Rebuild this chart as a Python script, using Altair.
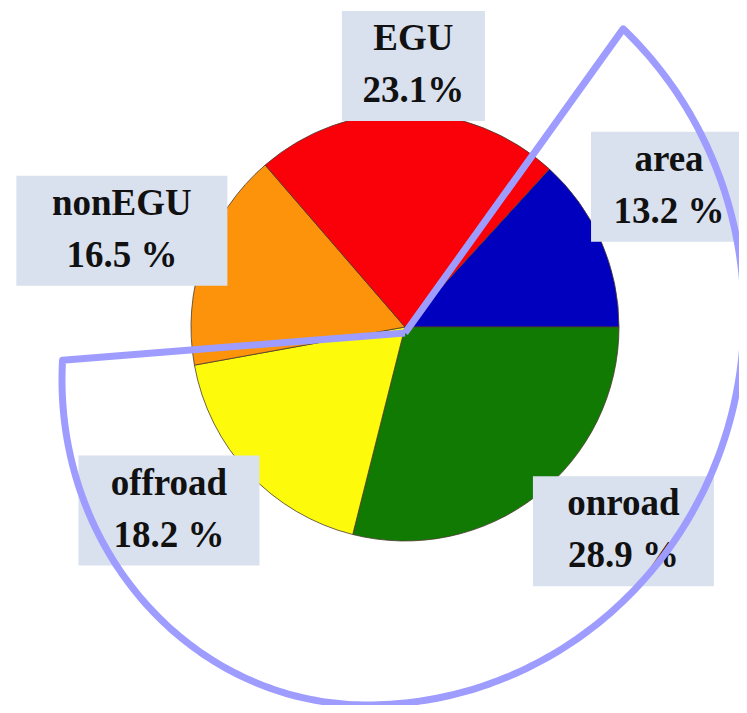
import math
import altair as alt
import pandas as pd

# ---------------- data ----------------
categories = ["area", "onroad", "offroad", "nonEGU", "EGU"]
shares = [13.2, 28.9, 18.2, 16.5, 23.1]
share_labels = ["13.2 %", "28.9 %", "18.2 %", "16.5 %", "23.1%"]

# ---------------- styling / layout ----------------
slice_colors = ["#0000be", "#107a03", "#fdfb0b", "#fc930a", "#fa0008"]
box_widths = [156, 181, 181, 211, 143]       # label box widths (px)
angle_nudge = [-4.2, -9.0, 5.2, -0.7, 0.8]   # label angular nudges (deg)

W, H = 731, 697
CX, CY = 397, 319          # pie centre (view px)
R_PIE = 214
R_LABEL = 299
R_DOT = 227
BOX_H = 110
TOP_MIN = 3 + BOX_H / 2
START_DEG = 90 - 360 * shares[0] / sum(shares)
START = math.radians(START_DEG)

# outline wedge (highlight shape made of two elliptical arcs)
V_X, V_Y = 397, 325                    # wedge vertex
R_CX, R_CY, R_RX, R_RY = 359, 307, 377, 390   # right-hand arc
L_CX, L_CY, L_RX, L_RY = 359, 372, 305, 325   # left-hand arc
E_START, E_END = 42.8, 273.5
N_SEQ = 262

df = pd.DataFrame({
    "category": categories,
    "share": shares,
    "label": share_labels,
    "idx": list(range(len(categories))),
    "bw": box_widths,
    "nudge": angle_nudge,
})

px = alt.Scale(domain=[0, W], range=[0, W], nice=False, zero=False)
py = alt.Scale(domain=[0, H], range=[0, H], nice=False, zero=False)

pie = alt.Chart(df).mark_arc(
    outerRadius=R_PIE, stroke="#4a3a30", strokeWidth=0.8
).encode(
    theta=alt.Theta("share:Q", stack=True,
                    scale=alt.Scale(range=[START, START + 2 * math.pi])),
    order=alt.Order("idx:Q"),
    color=alt.Color("category:N", legend=None,
                    scale=alt.Scale(domain=categories, range=slice_colors)),
    x=alt.value(CX),
    y=alt.value(CY),
)

lab = alt.Chart(df).transform_joinaggregate(
    total="sum(share)"
).transform_window(
    cum="sum(share)", sort=[alt.SortField("idx")], frame=[None, 0]
).transform_calculate(
    mid0=f"{START_DEG} + 360 * (datum.cum - datum.share / 2) / datum.total",
).transform_calculate(
    mid="datum.mid0 + datum.nudge",
).transform_calculate(
    lx=f"{CX} + {R_LABEL} * sin(datum.mid * PI / 180)",
    ly=f"max({CY} - {R_LABEL} * cos(datum.mid * PI / 180), {TOP_MIN})",
    dx=f"{CX} + {R_DOT} * sin(datum.mid0 * PI / 180)",
    dy=f"{CY} - {R_DOT} * cos(datum.mid0 * PI / 180)",
).transform_calculate(
    bx1="datum.lx - datum.bw / 2",
    bx2="datum.lx + datum.bw / 2",
    by1=f"datum.ly - {BOX_H / 2}",
    by2=f"datum.ly + {BOX_H / 2}",
)

dots = lab.mark_circle(size=120, opacity=1, color="#1a7fd6").encode(
    x=alt.X("dx:Q", scale=px, axis=None),
    y=alt.Y("dy:Q", scale=py, axis=None),
)

boxes = lab.mark_rect(color="#d9e0ee").encode(
    x=alt.X("bx1:Q", scale=px, axis=None),
    x2="bx2:Q",
    y=alt.Y("by1:Q", scale=py, axis=None),
    y2="by2:Q",
)

font = dict(font="Liberation Serif", fontWeight="bold", fontSize=37,
            align="center", baseline="alphabetic", color="#111111")

names = lab.mark_text(dy=-16, **font).encode(
    x=alt.X("lx:Q", scale=px, axis=None),
    y=alt.Y("ly:Q", scale=py, axis=None),
    text="category:N",
)
pcts = lab.mark_text(dy=36, **font).encode(
    x=alt.X("lx:Q", scale=px, axis=None),
    y=alt.Y("ly:Q", scale=py, axis=None),
    text="label:N",
)

last = N_SEQ - 1
outline = alt.Chart(alt.sequence(0, N_SEQ, as_="i")).transform_calculate(
    deg=f"{E_START} + ({E_END} - {E_START}) * (datum.i - 1) / ({N_SEQ} - 3)",
).transform_calculate(
    phi="datum.deg * PI / 180",
    right="datum.deg <= 180",
).transform_calculate(
    ox=(f"(datum.i == 0 || datum.i == {last}) ? {V_X} : "
        f"(datum.right ? {R_CX} + {R_RX} * sin(datum.phi) : {L_CX} + {L_RX} * sin(datum.phi))"),
    oy=(f"(datum.i == 0 || datum.i == {last}) ? {V_Y} : "
        f"(datum.right ? {R_CY} - {R_RY} * cos(datum.phi) : {L_CY} - {L_RY} * cos(datum.phi))"),
).mark_line(color="#9e9cff", strokeWidth=7, strokeJoin="round").encode(
    x=alt.X("ox:Q", scale=px, axis=None),
    y=alt.Y("oy:Q", scale=py, axis=None),
    order="i:Q",
)

chart = alt.layer(pie, dots, boxes, names, pcts, outline).properties(
    width=W, height=H, padding=0,
    autosize=alt.AutoSizeParams(type="none"),
).configure_view(stroke=None)

chart.save("out.html", embed_options={"renderer": "svg", "actions": False})
